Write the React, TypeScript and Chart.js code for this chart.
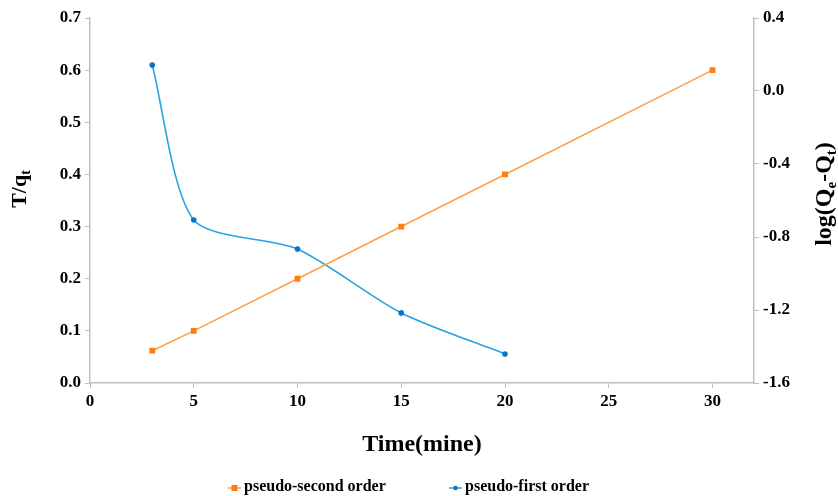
import React, { useEffect, useRef } from "react";
import { Chart, registerables } from "chart.js";

Chart.register(...registerables);

const timeSecond = [3, 5, 10, 15, 20, 30];
const tOverQt = [0.062, 0.1, 0.2, 0.3, 0.4, 0.6];
const timeFirst = [3, 5, 10, 15, 20];
const logQeQt = [0.142, -0.707, -0.866, -1.216, -1.441];
const seriesNames = ["pseudo-second order", "pseudo-first order"];
const xTitle = "Time(mine)";

const ORANGE_LINE = "#FFA04A";
const ORANGE_PT = "#FF7F0E";
const BLUE_LINE = "#2AA2E2";
const BLUE_PT = "#0B74C2";
const AXIS = "#BFBFBF";
const FONT = "'Liberation Serif', 'Times New Roman', serif";

export default function App() {
  const ref = useRef<HTMLCanvasElement | null>(null);
  useEffect(() => {
    if (!ref.current) return;
    const yTitles = {
      id: "yTitles",
      afterDraw(chart: any) {
        const ctx = chart.ctx;
        const drawRich = (parts: [string, boolean][], x: number, cy: number, size: number) => {
          ctx.save();
          ctx.translate(x, cy);
          ctx.rotate(-Math.PI / 2);
          ctx.fillStyle = "#000";
          ctx.textBaseline = "middle";
          let total = 0;
          for (const [t, sub] of parts) {
            ctx.font = `bold ${sub ? Math.round(size * 0.62) : size}px ${FONT}`;
            total += ctx.measureText(t).width;
          }
          let px = -total / 2;
          for (const [t, sub] of parts) {
            ctx.font = `bold ${sub ? Math.round(size * 0.62) : size}px ${FONT}`;
            ctx.textAlign = "left";
            ctx.fillText(t, px, sub ? size * 0.28 : 0);
            px += ctx.measureText(t).width;
          }
          ctx.restore();
        };
        drawRich([["T/q", false], ["t", true]], 20, 189, 22);
        drawRich([["log(Q", false], ["e", true], ["-Q", false], ["t", true], [")", false]], 825, 194, 24);
      },
    };
    const bottomLegend = {
      id: "bottomLegend",
      afterDraw(chart: any) {
        const ctx = chart.ctx;
        const y = 488;
        const items = [
          { x: 228, line: ORANGE_LINE, pt: ORANGE_PT, square: true, text: seriesNames[0] },
          { x: 449, line: BLUE_LINE, pt: BLUE_PT, square: false, text: seriesNames[1] },
        ];
        ctx.save();
        for (const it of items) {
          ctx.strokeStyle = it.line;
          ctx.lineWidth = 1.5;
          ctx.beginPath();
          ctx.moveTo(it.x, y);
          ctx.lineTo(it.x + 13, y);
          ctx.stroke();
          ctx.fillStyle = it.pt;
          if (it.square) ctx.fillRect(it.x + 3.5, y - 3, 6, 6);
          else {
            ctx.beginPath();
            ctx.arc(it.x + 6.5, y, 2.3, 0, Math.PI * 2);
            ctx.fill();
          }
          ctx.fillStyle = "#000";
          ctx.font = `bold 16px ${FONT}`;
          ctx.textAlign = "left";
          ctx.textBaseline = "middle";
          ctx.fillText(it.text, it.x + 16, y - 1);
        }
        ctx.restore();
      },
    };
    const chart = new Chart(ref.current, {
      type: "line",
      data: {
        datasets: [
          {
            label: seriesNames[0],
            data: timeSecond.map((x, i) => ({ x, y: tOverQt[i] })),
            yAxisID: "y",
            borderColor: ORANGE_LINE,
            backgroundColor: ORANGE_PT,
            pointBackgroundColor: ORANGE_PT,
            pointBorderColor: ORANGE_PT,
            pointStyle: "rect",
            pointRadius: 3,
            borderWidth: 1.6,
            tension: 0,
          },
          {
            label: seriesNames[1],
            data: timeFirst.map((x, i) => ({ x, y: logQeQt[i] })),
            yAxisID: "y1",
            borderColor: BLUE_LINE,
            backgroundColor: BLUE_PT,
            pointBackgroundColor: BLUE_PT,
            pointBorderColor: BLUE_PT,
            pointStyle: "circle",
            pointRadius: 2,
            borderWidth: 1.6,
            tension: 0.25,
          },
        ],
      },
      options: {
        animation: false,
        responsive: false,
        layout: { padding: { top: 18, left: 0, right: 0, bottom: 0 } },
        plugins: {
          tooltip: { enabled: false },
          legend: { display: false },
        },
        scales: {
          x: {
            type: "linear",
            min: 0,
            max: 32,
            afterBuildTicks: (s: any) => {
              s.ticks = s.ticks.filter((t: any) => t.value % 5 === 0);
            },
            afterFit: (s: any) => {
              s.height = 113;
            },
            ticks: {
              stepSize: 5,
              color: "#000",
              padding: 3,
              font: { family: FONT, weight: "bold", size: 17 },
            },
            grid: { drawOnChartArea: false, drawTicks: true, tickLength: 5, color: AXIS },
            border: { color: AXIS, width: 1.5 },
            title: {
              display: true,
              text: xTitle,
              color: "#000",
              font: { family: FONT, weight: "bold", size: 24 },
              padding: { top: 0, bottom: 37 },
            },
          },
          y: {
            type: "linear",
            position: "left",
            min: 0,
            max: 0.7,
            afterFit: (s: any) => {
              s.width = 90;
            },
            ticks: {
              stepSize: 0.1,
              color: "#000",
              padding: 4,
              font: { family: FONT, weight: "bold", size: 17 },
              callback: (v: any) => Number(v).toFixed(1),
            },
            grid: { drawOnChartArea: false, drawTicks: true, tickLength: 5, color: AXIS },
            border: { color: AXIS, width: 1.5 },
          },
          y1: {
            type: "linear",
            position: "right",
            min: -1.6,
            max: 0.4,
            afterFit: (s: any) => {
              s.width = 84;
            },
            ticks: {
              stepSize: 0.4,
              color: "#000",
              padding: 4,
              font: { family: FONT, weight: "bold", size: 17 },
              callback: (v: any) => {
                const n = Math.abs(v) < 1e-9 ? 0 : Number(v);
                return n.toFixed(1);
              },
            },
            grid: { drawOnChartArea: false, drawTicks: true, tickLength: 5, color: AXIS },
            border: { color: AXIS, width: 1.5 },
          },
        },
      } as any,
      plugins: [yTitles, bottomLegend],
    });
    return () => chart.destroy();
  }, []);
  return (
    <div style={{ position: "fixed", left: 0, top: 0, width: 838, height: 496, background: "#fff" }}>
      <canvas ref={ref} width={838} height={496} style={{ width: 838, height: 496 }} />
    </div>
  );
}
